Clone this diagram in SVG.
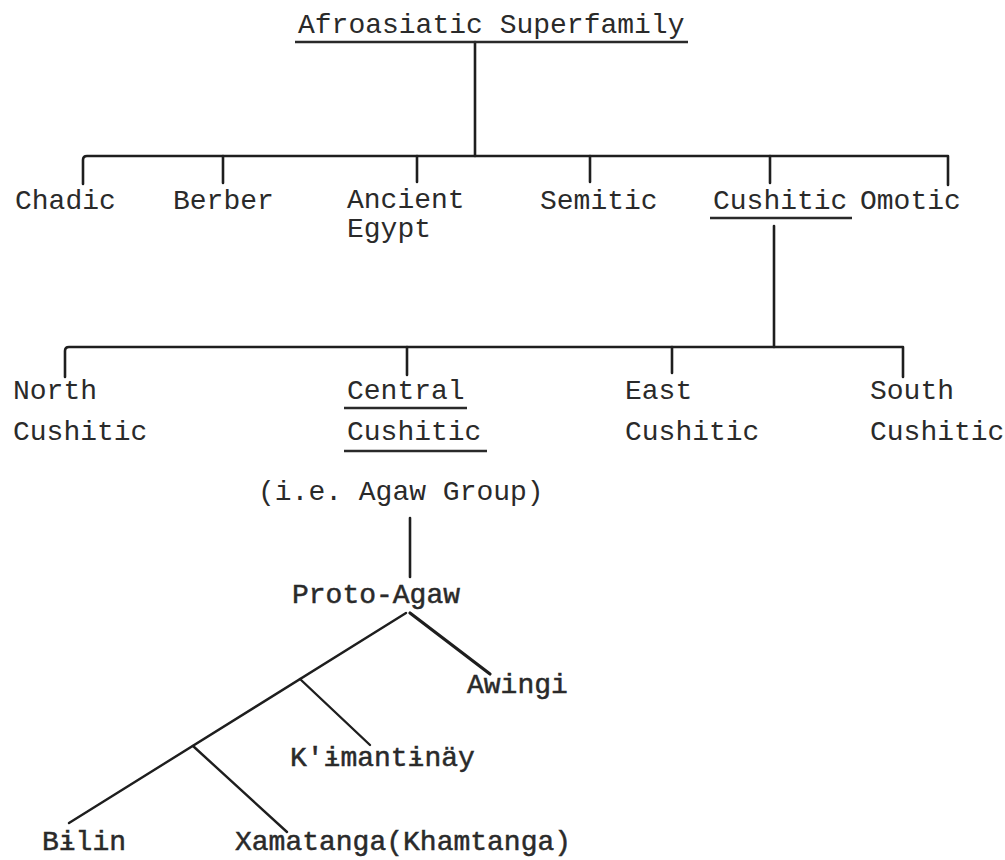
<svg xmlns="http://www.w3.org/2000/svg" width="1005" height="860" viewBox="0 0 1005 860">
<style>
text{font-family:"Liberation Mono","DejaVu Sans Mono",monospace;font-size:28px;fill:#2a2a2a}
.b{stroke:#2a2a2a;stroke-width:0.5px}
.l{stroke:#1e1e1e;stroke-width:2.6;fill:none;stroke-linecap:round;stroke-linejoin:round}
.u{stroke:#2a2a2a;stroke-width:2.4;fill:none}
.d{stroke:#1e1e1e;stroke-width:2.4;fill:none;stroke-linecap:round}
</style>
<rect width="1005" height="860" fill="#fff"/>
<g id="connectors">
<path class="l" d="M475,42 V156"/>
<path class="l" d="M83,184 V160 Q83,156 87,156 H948 V185"/>
<path class="l" d="M223,156 V183 M417,156 V182 M590,156 V182 M770,156 V183"/>
<path class="l" d="M774,226 V347"/>
<path class="l" d="M65,377 V351 Q65,347 69,347 H903 V377"/>
<path class="l" d="M407,347 V375 M672,347 V373"/>
<path class="l" d="M410,518 V577"/>
<path class="d" d="M406,613 L69,823"/>
<path class="d" d="M410,613 L490,674" style="stroke-width:3.2"/>
<path class="d" d="M300,679 L370,745"/>
<path class="d" d="M193,746 L287,832"/>
</g>
<g id="afroasiatic"><text x="298" y="33">Afroasiatic Superfamily</text><path class="u" d="M295,42 H688"/></g>
<g id="chadic"><text x="15" y="209">Chadic</text></g>
<g id="berber"><text x="173" y="209">Berber</text></g>
<g id="ancient-egypt"><text x="347" y="208">Ancient</text><text x="347" y="237">Egypt</text></g>
<g id="semitic"><text x="540" y="209">Semitic</text></g>
<g id="cushitic"><text x="713" y="209">Cushitic</text><path class="u" d="M710,218 H852"/></g>
<g id="omotic"><text x="860" y="209">Omotic</text></g>
<g id="north-cushitic"><text x="13" y="399">North</text><text x="13" y="440">Cushitic</text></g>
<g id="central-cushitic"><text x="347" y="399">Central</text><path class="u" d="M344,408 H467"/><text x="347" y="440">Cushitic</text><path class="u" d="M344,451 H487"/><text x="258" y="500">(i.e. Agaw Group)</text></g>
<g id="east-cushitic"><text x="625" y="399">East</text><text x="625" y="440">Cushitic</text></g>
<g id="south-cushitic"><text x="870" y="399">South</text><text x="870" y="440">Cushitic</text></g>
<g id="proto-agaw"><text class="b" x="292" y="603">Proto-Agaw</text></g>
<g id="awingi"><text class="b" x="467" y="693">Awingi</text></g>
<g id="kimantinay"><text class="b" x="290" y="766">K'ɨmantɨnäy</text></g>
<g id="bilin"><text class="b" x="42" y="850">Bɨlin</text></g>
<g id="xamatanga"><text class="b" x="235" y="850">Xamatanga(Khamtanga)</text></g>
</svg>
